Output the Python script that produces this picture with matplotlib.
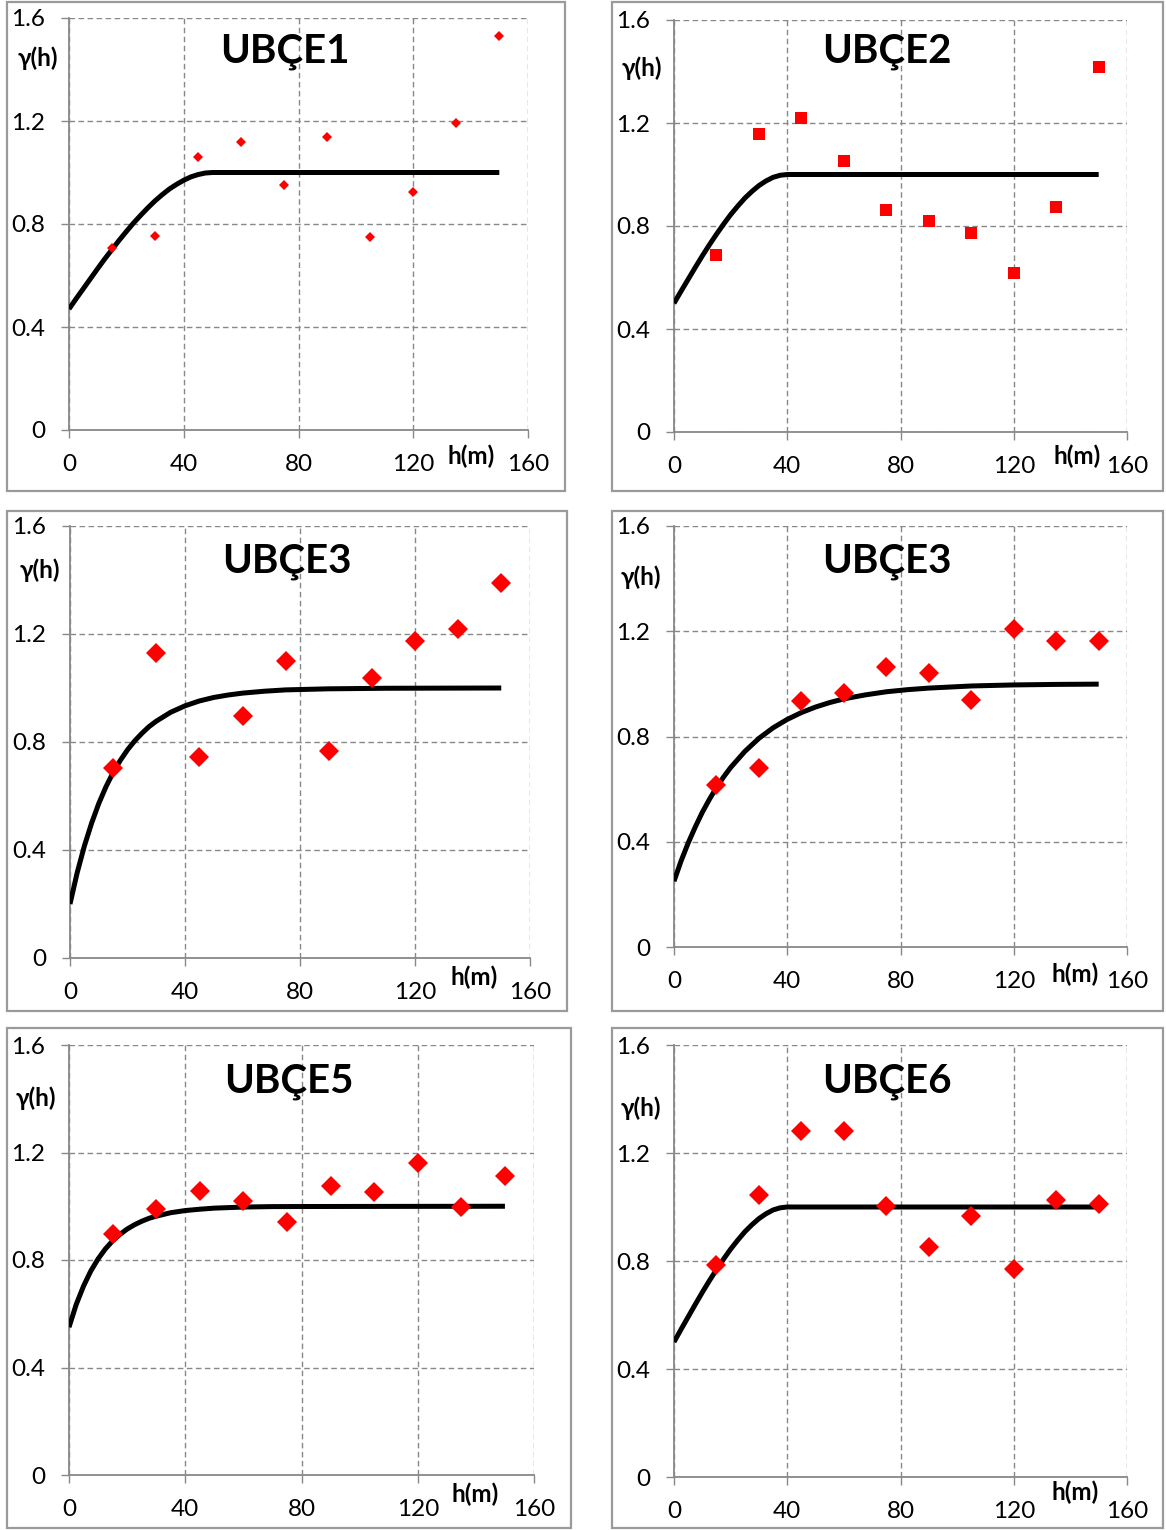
import matplotlib
matplotlib.use("Agg")
import matplotlib.pyplot as plt
from matplotlib.patches import Rectangle

plt.rcParams['font.family'] = ['Lato', 'DejaVu Sans']

# ---------------- data ----------------
lags = [15, 30, 45, 60, 75, 90, 105, 120, 135, 150]

ubce1_gamma = [0.707, 0.753, 1.06, 1.118, 0.951, 1.138, 0.75, 0.924, 1.192, 1.53]
ubce2_gamma = [0.687, 1.157, 1.22, 1.052, 0.862, 0.819, 0.773, 0.617, 0.874, 1.417]
ubce3a_gamma = [0.704, 1.13, 0.744, 0.896, 1.10, 0.767, 1.037, 1.174, 1.219, 1.389]
ubce3b_gamma = [0.616, 0.68, 0.935, 0.965, 1.064, 1.041, 0.939, 1.209, 1.163, 1.163]
ubce5_gamma = [0.897, 0.99, 1.057, 1.02, 0.941, 1.075, 1.053, 1.161, 0.997, 1.113]
ubce6_gamma = [0.785, 1.044, 1.281, 1.281, 1.004, 0.852, 0.967, 0.77, 1.026, 1.011]

# model curves
ubce1_curve_h = [0, 2.5, 5, 7.5, 10, 12.5, 15, 17.5, 20, 22.5, 25, 27.5, 30, 32.5, 35,
                 37.5, 40, 42.5, 45, 47.5, 50, 150]
ubce1_curve_g = [0.47, 0.510, 0.549, 0.588, 0.627, 0.665, 0.701, 0.737, 0.771, 0.804,
                 0.834, 0.863, 0.890, 0.914, 0.936, 0.954, 0.970, 0.983, 0.992, 0.998,
                 1.0, 1.0]

ubce2_curve_h = [0, 2.5, 5, 7.5, 10, 12.5, 15, 17.5, 20, 22.5, 25, 27.5, 30, 32.5, 35,
                 37.5, 40, 150]
ubce2_curve_g = [0.50, 0.547, 0.593, 0.639, 0.684, 0.727, 0.768, 0.807, 0.844, 0.877,
                 0.908, 0.934, 0.957, 0.975, 0.989, 0.997, 1.0, 1.0]

ubce3a_curve_h = [0, 2.5, 5, 7.5, 10, 12.5, 15, 17.5, 20, 22.5, 25, 27.5, 30, 35, 40,
                  45, 50, 55, 60, 67.5, 75, 82.5, 90, 110, 150]
ubce3a_curve_g = [0.20, 0.316, 0.415, 0.499, 0.572, 0.634, 0.687, 0.732, 0.771, 0.804,
                  0.832, 0.857, 0.877, 0.910, 0.934, 0.952, 0.965, 0.974, 0.981, 0.988,
                  0.993, 0.995, 0.997, 0.999, 1.0]

ubce3b_curve_h = [0, 2.5, 5, 7.5, 10, 12.5, 15, 17.5, 20, 25, 30, 35, 40, 45, 50, 55,
                  60, 67.5, 75, 82.5, 90, 105, 120, 135, 150]
ubce3b_curve_g = [0.25, 0.327, 0.395, 0.456, 0.512, 0.561, 0.606, 0.646, 0.682, 0.743,
                  0.793, 0.833, 0.865, 0.891, 0.912, 0.929, 0.943, 0.958, 0.970, 0.978,
                  0.984, 0.992, 0.996, 0.998, 0.999]

ubce5_curve_h = [0, 2.5, 5, 7.5, 10, 12.5, 15, 17.5, 20, 22.5, 25, 27.5, 30, 35, 40,
                 45, 50, 60, 70, 80, 150]
ubce5_curve_g = [0.55, 0.635, 0.703, 0.759, 0.804, 0.841, 0.871, 0.895, 0.915, 0.931,
                 0.944, 0.955, 0.963, 0.976, 0.984, 0.989, 0.993, 0.997, 0.9987, 0.999, 1.0]

ubce6_curve_h = [0, 2.5, 5, 7.5, 10, 12.5, 15, 17.5, 20, 22.5, 25, 27.5, 30, 32.5, 35,
                 37.5, 40, 150]
ubce6_curve_g = [0.50, 0.547, 0.593, 0.639, 0.684, 0.727, 0.768, 0.807, 0.844, 0.877,
                 0.908, 0.934, 0.957, 0.975, 0.989, 0.997, 1.0, 1.0]

titles = ["UBÇE1", "UBÇE2", "UBÇE3", "UBÇE3", "UBÇE5", "UBÇE6"]
x_ticks = [0, 40, 80, 120, 160]
y_ticks = [0, 0.4, 0.8, 1.2, 1.6]
y_tick_labels = ["0", "0.4", "0.8", "1.2", "1.6"]

points = [ubce1_gamma, ubce2_gamma, ubce3a_gamma, ubce3b_gamma, ubce5_gamma, ubce6_gamma]
curves = [(ubce1_curve_h, ubce1_curve_g), (ubce2_curve_h, ubce2_curve_g),
          (ubce3a_curve_h, ubce3a_curve_g), (ubce3b_curve_h, ubce3b_curve_g),
          (ubce5_curve_h, ubce5_curve_g), (ubce6_curve_h, ubce6_curve_g)]

# ---------------- layout (pixels) ----------------
W, H = 1166, 1530
panels = [
    dict(box=(7, 2, 565, 491), ax=(69, 528, 18, 430), marker='D', ms=5.6, title=(285, 52), gl=(38, 58), hl=(471, 456)),
    dict(box=(612, 2, 1163, 491), ax=(674, 1127, 20, 432), marker='s', ms=8.4, title=(887, 52), gl=(642, 68), hl=(1077, 456)),
    dict(box=(7, 511, 567, 1011), ax=(70, 530, 526, 958), marker='D', ms=10, title=(287, 562), gl=(40, 570), hl=(474, 977)),
    dict(box=(612, 511, 1163, 1011), ax=(674, 1127, 526, 947), marker='D', ms=10, title=(887, 562), gl=(641, 577), hl=(1075, 974)),
    dict(box=(7, 1028, 571, 1528), ax=(69, 534, 1045, 1475), marker='D', ms=10, title=(289, 1081), gl=(36, 1098), hl=(475, 1494)),
    dict(box=(612, 1028, 1163, 1528), ax=(674, 1127, 1045, 1477), marker='D', ms=10, title=(887, 1081), gl=(641, 1108), hl=(1075, 1492)),
]

fig = plt.figure(figsize=(W / 100, H / 100), dpi=100)
fig.patch.set_facecolor('white')

grid_col = '#888888'

for i, p in enumerate(panels):
    bx0, by0, bx1, by1 = p['box']
    fig.patches.append(Rectangle((bx0 / W, 1 - by1 / H), (bx1 - bx0) / W, (by1 - by0) / H,
                                 transform=fig.transFigure, fill=False,
                                 edgecolor='#9a9a9a', linewidth=1.6, zorder=0))
    l, r, t, b = p['ax']
    ax = fig.add_axes([l / W, 1 - b / H, (r - l) / W, (b - t) / H])
    ax.set_xlim(0, 160)
    ax.set_ylim(0, 1.6)
    ax.set_xticks(x_ticks)
    ax.set_yticks(y_ticks)
    ax.set_yticklabels(y_tick_labels)
    ax.tick_params(axis='both', direction='out', length=6, width=1, color=grid_col,
                   labelsize=17.5, pad=11)
    ax.grid(True, linestyle=(0, (4, 2.5)), color=grid_col, linewidth=1.0)
    for s in ['top', 'right']:
        ax.spines[s].set_visible(False)
    ax.spines['left'].set_color(grid_col)
    ax.spines['left'].set_linewidth(1.3)
    ax.spines['bottom'].set_color(grid_col)
    ax.spines['bottom'].set_linewidth(1.3)
    if i == 0:
        ax.spines['bottom'].set_linestyle((0, (1, 1)))
    ax.set_axisbelow(True)

    ch, cg = curves[i]
    ax.plot(ch, cg, color='black', linewidth=3.6, solid_capstyle='butt',
            solid_joinstyle='round', zorder=3)
    ax.plot(lags, points[i], linestyle='none', marker=p['marker'], markersize=p['ms'],
            color='#ff0000', markeredgewidth=0, zorder=4)

    tx, ty = p['title']
    fig.text(tx / W, 1 - ty / H, titles[i], fontsize=29, fontweight='bold',
             ha='center', va='center')
    gx, gy = p['gl']
    fig.text(gx / W, 1 - gy / H, "γ(h)", fontsize=17.5, fontweight='bold',
             ha='center', va='center')
    hx, hy = p['hl']
    fig.text(hx / W, 1 - hy / H, "h(m)", fontsize=17.5, fontweight='bold',
             ha='center', va='center')

fig.savefig('out.png', dpi=100, facecolor='white')
